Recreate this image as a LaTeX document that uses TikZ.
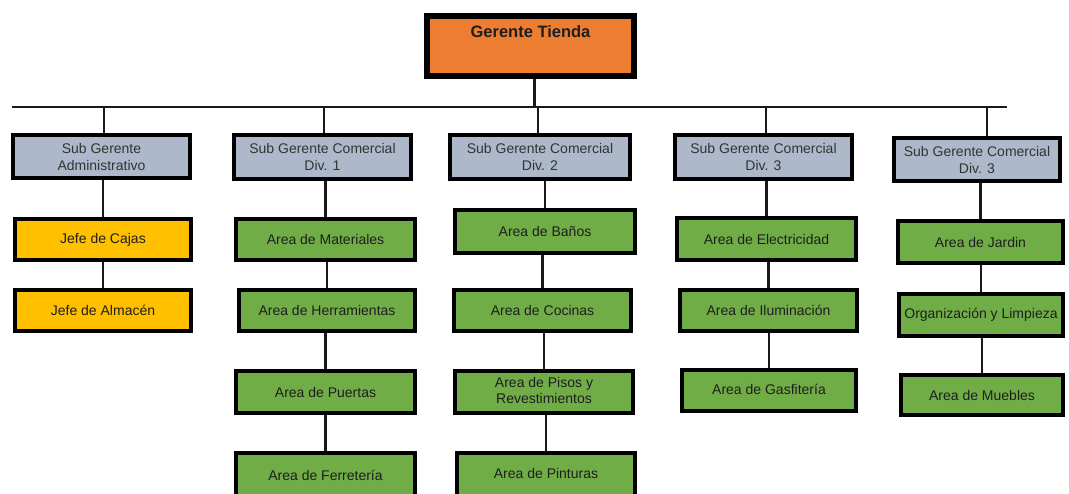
\documentclass[tikz,border=0pt]{standalone}
\usepackage{fontspec}
\setmainfont{Liberation Sans}
\definecolor{bossorange}{HTML}{ED7D31}
\definecolor{subblue}{HTML}{ADB9CA}
\definecolor{cashgold}{HTML}{FFC000}
\definecolor{areagreen}{HTML}{70AD47}
\definecolor{inkgrey}{HTML}{1E1E1E}
\tikzset{
  box/.style={draw=black, line width=4pt, rectangle, inner sep=0pt, align=center,
    text=inkgrey, font=\fontsize{14}{17}\selectfont},
  subbox/.style={box, fill=subblue, text=black!80},
  goldbox/.style={box, fill=cashgold},
  greenbox/.style={box, fill=areagreen},
  link/.style={draw=black!90, line width=2.5pt}
}
\begin{document}
\begin{tikzpicture}[x=1pt, y=-1pt]
\useasboundingbox (0,0) rectangle (1069,493);
\clip (0,0) rectangle (1069,493);

% top of the chart
\node[box, fill=bossorange, line width=6pt, minimum width=207, minimum height=60,
  label={[anchor=north, yshift=-9pt, font=\bfseries\fontsize{16.5}{18}\selectfont, text=inkgrey]north:Gerente Tienda}]
  (boss) at (530.5,46) {};

% second level
\node[subbox, minimum width=177, minimum height=43] (s1) at (101.5,156.5) {Sub Gerente\\Administrativo};
\node[subbox, minimum width=177, minimum height=44] (s2) at (322.5,157) {Sub Gerente Comercial\\Div. 1};
\node[subbox, minimum width=180, minimum height=44] (s3) at (540,157) {Sub Gerente Comercial\\Div. 2};
\node[subbox, minimum width=177, minimum height=44] (s4) at (763.5,157) {Sub Gerente Comercial\\Div. 3};
\node[subbox, minimum width=166, minimum height=43] (s5) at (977,159.5) {Sub Gerente Comercial\\Div. 3};

% administrative column
\node[goldbox, minimum width=176, minimum height=41] (a1) at (103,239.5) {Jefe de Cajas};
\node[goldbox, minimum width=176, minimum height=41] (a2) at (103,310.5) {Jefe de Almacén};

% division 1
\node[greenbox, minimum width=179, minimum height=41] (b1) at (325.5,239.5) {Area de Materiales};
\node[greenbox, minimum width=176, minimum height=41] (b2) at (327,310.5) {Area de Herramientas};
\node[greenbox, minimum width=179, minimum height=42] (b3) at (325.5,392) {Area de Puertas};
\node[greenbox, minimum width=179, minimum height=48] (b4) at (325.5,477) {\raisebox{3pt}{Area de Ferretería}};

% division 2
\node[greenbox, minimum width=180, minimum height=43] (c1) at (545,231.5) {Area de Baños};
\node[greenbox, minimum width=177, minimum height=41] (c2) at (542.5,310.5) {Area de Cocinas};
\node[greenbox, minimum width=178, minimum height=42] (c3) at (544,392) {\raisebox{3pt}{\shortstack{Area de Pisos y\\Revestimientos}}};
\node[greenbox, minimum width=178, minimum height=48] (c4) at (546,477) {\raisebox{7pt}{Area de Pinturas}};

% division 3
\node[greenbox, minimum width=179, minimum height=42] (d1) at (766.5,239) {Area de Electricidad};
\node[greenbox, minimum width=177, minimum height=41] (d2) at (768.5,310.5) {Area de Iluminación};
\node[greenbox, minimum width=174, minimum height=41] (d3) at (769,390.5) {\raisebox{3pt}{Area de Gasfitería}};

% last division
\node[greenbox, minimum width=165, minimum height=42] (e1) at (980.5,242) {Area de Jardin};
\node[greenbox, minimum width=164, minimum height=42] (e2) at (981,315) {\raisebox{2pt}{Organización y Limpieza}};
\node[greenbox, minimum width=162, minimum height=40] (e3) at (982,395) {Area de Muebles};

% main bus
\coordinate (busL) at (12,107);
\coordinate (busR) at (1007,107);
\draw[link] (busL) -- (busR);
\draw[link] ([xshift=4pt]boss.south) -- ([xshift=4pt]boss.south |- busL);
\foreach \s/\dx in {s1/2.5, s2/1.5, s3/-2, s4/2.5, s5/10} {
  \draw[link] ([xshift=\dx pt]\s.north |- busL) -- ([xshift=\dx pt]\s.north);
}

% column links
\foreach \u/\v in {s1/a1, a1/a2, s2/b1, b1/b2, b2/b3, b3/b4,
                   s3/c1, c1/c2, c2/c3, c3/c4,
                   s4/d1, d1/d2, d2/d3, s5/e1, e1/e2, e2/e3} {
  \draw[link] (\v.north |- \u.south) -- (\v.north);
}
\end{tikzpicture}
\end{document}
